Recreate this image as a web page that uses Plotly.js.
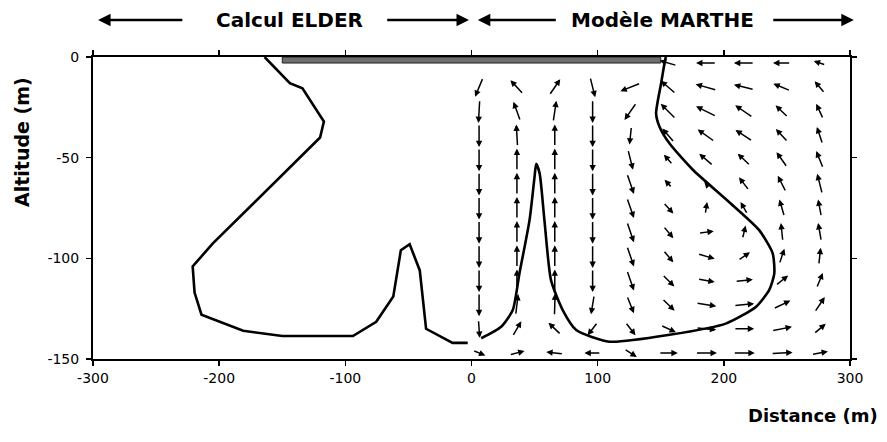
<!DOCTYPE html>
<html>
<head>
<meta charset="utf-8">
<script src="https://cdn.plot.ly/plotly-3.0.1.min.js"></script>
<style>html,body{margin:0;padding:0;background:#fff;}#chart{width:887px;height:442px;}</style>
</head>
<body>
<div id="chart"></div>
<script>
// ELDER computed contour (left half)
const elderX = [-164, -144, -134, -117, -120, -205, -221, -219.5, -214, -181, -150, -94, -75.5, -62, -56, -49, -41, -36, -15, -3];
const elderY = [0, -13, -15.6, -32, -40, -92.6, -104, -117, -128, -136, -138.6, -138.6, -131.5, -119, -96, -93, -106, -135, -142, -142];

// MARTHE model contour (right half)
const martheX = [7.7, 23.5, 32.7, 38, 46, 50, 51.3, 54, 57.8, 63, 72.3, 83, 109.4, 157, 202, 225.6, 236, 240, 238.7, 228, 205, 175.4, 157, 149, 146.3, 150.3, 153, 154];
const martheY = [-139.7, -134, -125.7, -107.5, -81, -59.4, -53, -57.8, -81, -110.8, -125.7, -135.6, -141.4, -138, -132.3, -124, -115.7, -107.5, -97.5, -86, -72.5, -56, -43, -34.6, -28, -13, -3, 0];

// grey band along the top boundary
const bandX = [-150, 150];
const bandDepth = -3;

// velocity field grid (MARTHE)
const gridX = [6, 36, 66, 96, 126, 156, 186, 216, 246, 276];
const gridY = [-3, -15, -27, -39, -51, -63, -75, -87, -99, -111, -123, -135, -147];
const velU = [
  [0, 0, 0, 0, 0, -13.5, -16, -16, -14, -9.5],
  [-6.3, -10.3, 8.7, 4, -16, -12, -16.7, -16, -13.5, -8],
  [-1, -5.5, 2.5, 0, -9.5, -12, -16, -14, -10, -5.5],
  [0, -1, 0, 0, -1.5, -9.5, -13.5, -13.5, -9.5, -4.5],
  [0, 0, 0, 0, 4, -7, -11, -10, -8.5, -5.5],
  [0, 0, 0, 0, 5.5, -6, -3, -8, -6.5, -4],
  [0, 0, 0, 0, 5.5, 8, 1.5, -5.5, -4, -2.5],
  [0, 0, 0, 0, 5.5, 8, 12, 2.5, -1.5, -2.5],
  [0, 0, 0, 0, 5.5, 8, 13.5, 9.5, 4, 1.5],
  [0, 0, 0, 0, 5.5, 9.5, 13.5, 14, 10, 5],
  [0, 2, 0.5, -2.5, 5.5, 10, 16, 16, 13.5, 8],
  [1, 7, -10, -8, 8, 12, 16, 16, 16, 9.5],
  [10, 12, -13.5, -13, 10, 15, 17, 17, 17, 13]
];
const velV = [
  [0, 0, 0, 0, 0, 2.5, 0, 0, 0, 2],
  [-9.5, 7, 8, -10, -4, 6.5, 3, 2.5, 3.5, 6],
  [-11.5, 9.5, 10.5, -11.5, -8.5, 7.5, 5, 6, 6, 7.5],
  [-11.5, 11, 11, -11.5, -9, 7, 6, 5.5, 6.5, 8.5],
  [-11.5, 11, 11, -11.5, -10, 5, 6, 6, 7.5, 8.5],
  [-11.5, 11, 11, -11.5, -10, 4, 2, 6.5, 8, 10],
  [-11.5, 11, 11, -11.5, -10, -5.5, 6, 6, 8.5, 8.5],
  [-11.5, 11, 11, -11.5, -10, -6, 1, 6.5, 9, 9],
  [-11.5, 11, 11, -11.5, -10, -6, -2.5, 4, 7.5, 8.5],
  [-11.5, 11, 11, -11.5, -10, -6, -1.5, 1, 5, 7.5],
  [-11.5, 10.5, 11, -9.5, -8.5, -6, -1.5, 1, 4, 7.5],
  [-9, 7.5, 6, -6.5, -6.5, -3.5, -1, 0, 2, 5],
  [-2.5, 2, 1, 0, -4, 0, 0, 0, 0.5, 1.5]
];

// axis ticks
const xTickVals = [-300, -200, -100, 0, 100, 200, 300];
const xTickText = ['-300', '-200', '-100', '0', '100', '200', '300'];
const yTickVals = [0, -50, -100, -150];
const yTickText = ['0', '-50', '-100', '-150'];

// header labels
const headerLabels = ['Calcul ELDER', 'Modèle MARTHE'];
const headerCenters = [-144, 151];
const headerArrows = [[-228, -296], [-68, -2], [68, 5], [238, 303]]; // [tail, head]

const traces = [
  {
    x: [bandX[0], bandX[1], bandX[1], bandX[0], bandX[0]],
    y: [0, 0, bandDepth, bandDepth, 0],
    type: 'scatter', mode: 'lines', fill: 'toself',
    fillcolor: '#6e6e6e', line: {color: '#222', width: 1},
    hoverinfo: 'skip', showlegend: false
  },
  {
    x: elderX, y: elderY, type: 'scatter', mode: 'lines',
    line: {color: '#000', width: 2.6}, showlegend: false
  },
  {
    x: martheX, y: martheY, type: 'scatter', mode: 'lines',
    line: {color: '#000', width: 2.6, shape: 'spline', smoothing: 0.6}, showlegend: false
  }
];

const annotations = [];
for (let r = 0; r < gridY.length; r++) {
  for (let c = 0; c < gridX.length; c++) {
    const u = velU[r][c], v = velV[r][c];
    if (u === 0 && v === 0) continue;
    annotations.push({
      x: gridX[c] + u / 2, y: gridY[r] + v / 2,
      ax: gridX[c] - u / 2, ay: gridY[r] - v / 2,
      xref: 'x', yref: 'y', axref: 'x', ayref: 'y',
      text: '', showarrow: true, arrowhead: 2, arrowsize: 0.85,
      arrowwidth: 1.5, arrowcolor: '#000', standoff: 0, startstandoff: 0
    });
  }
}
const headerY = 1 + (57 - 20) / 302;
headerLabels.forEach((t, i) => {
  annotations.push({
    x: headerCenters[i], y: headerY, xref: 'x', yref: 'paper',
    xanchor: 'center', yanchor: 'middle',
    text: t, showarrow: false,
    font: {family: 'DejaVu Sans', size: 20, color: '#000', weight: 'bold'}
  });
});
headerArrows.forEach(a => {
  annotations.push({
    x: a[1], y: headerY, ax: a[0], ay: headerY,
    xref: 'x', yref: 'paper', axref: 'x', ayref: 'paper',
    text: '', showarrow: true, arrowhead: 2, arrowsize: 1,
    arrowwidth: 2.5, arrowcolor: '#000', standoff: 0, startstandoff: 0
  });
});
annotations.push({
  x: (22 - 93) / 757, y: 1 - (142 - 57) / 302, xref: 'paper', yref: 'paper',
  xanchor: 'center', yanchor: 'middle',
  text: 'Altitude (m)', textangle: -90, showarrow: false,
  font: {family: 'DejaVu Sans', size: 19, color: '#000', weight: 'bold'}
});
annotations.push({
  x: (813 - 93) / 757, y: 1 - (415 - 57) / 302, xref: 'paper', yref: 'paper',
  xanchor: 'center', yanchor: 'middle',
  text: 'Distance (m)', showarrow: false,
  font: {family: 'DejaVu Sans', size: 18, color: '#000', weight: 'bold'}
});

const layout = {
  width: 887, height: 442,
  margin: {l: 93, r: 37, t: 57, b: 83},
  paper_bgcolor: '#fff', plot_bgcolor: '#fff',
  showlegend: false,
  font: {family: 'DejaVu Sans', size: 14, color: '#000'},
  xaxis: {
    range: [-300, 300], showgrid: false, zeroline: false,
    showline: true, linewidth: 2, linecolor: '#000', mirror: 'ticks',
    ticks: 'outside', ticklen: 5, tickwidth: 1.5, tickcolor: '#000',
    tickvals: xTickVals, ticktext: xTickText, ticklabelstandoff: 0,
    tickfont: {family: 'DejaVu Sans', size: 14, color: '#000'}
  },
  yaxis: {
    range: [-150, 0], showgrid: false, zeroline: false,
    showline: true, linewidth: 2, linecolor: '#000', mirror: 'ticks',
    ticks: 'outside', ticklen: 5, tickwidth: 1.5, tickcolor: '#000',
    tickvals: yTickVals, ticktext: yTickText, ticklabelstandoff: 4,
    tickfont: {family: 'DejaVu Sans', size: 14, color: '#000'}
  },
  annotations: annotations
};

Plotly.newPlot('chart', traces, layout, {staticPlot: true, displayModeBar: false});
</script>
</body>
</html>
